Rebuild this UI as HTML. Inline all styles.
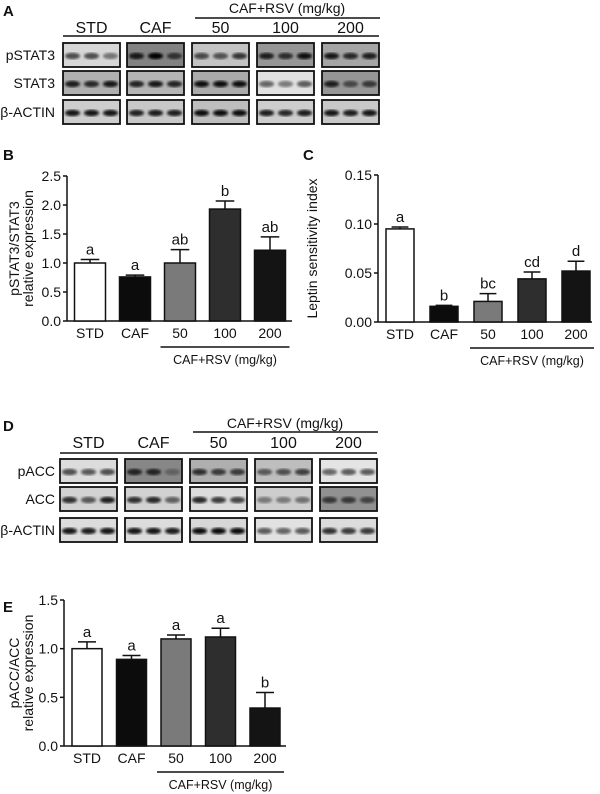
<!DOCTYPE html>
<html><head><meta charset="utf-8"><style>
html,body{margin:0;padding:0;background:#fff;}
svg{display:block;font-family:"Liberation Sans",Arial,sans-serif;}
</style></head><body>
<svg id="fig" width="600" height="794" viewBox="0 0 600 794">
<defs>
<filter id="blur1"><feGaussianBlur stdDeviation="1.2"/></filter>
</defs>
</svg>
<script>
// ---------- data ----------
const groups = ["STD","CAF","50","100","200"];
const bValues = [1.0, 0.76, 1.0, 1.93, 1.22];
const bErrors = [0.06, 0.03, 0.23, 0.14, 0.23];
const bLetters = ["a","a","ab","b","ab"];
const bTicks = [0.0,0.5,1.0,1.5,2.0,2.5];
const cValues = [0.095, 0.016, 0.021, 0.044, 0.052];
const cErrors = [0.002, 0.001, 0.008, 0.007, 0.010];
const cLetters = ["a","b","bc","cd","d"];
const cTicks = [0.00,0.05,0.10,0.15];
const eValues = [1.0, 0.89, 1.10, 1.12, 0.39];
const eErrors = [0.07, 0.04, 0.04, 0.09, 0.16];
const eLetters = ["a","a","a","a","b"];
const eTicks = [0.0,0.5,1.0,1.5];
const barColors = ["#ffffff","#0c0c0c","#7a7a7a","#2e2e2e","#141414"];
const blotA = {
  "pSTAT3":[[0.6,0.6,0.4],[0.8,0.95,0.6],[0.6,0.55,0.7],[0.8,0.7,0.95],[0.85,0.75,0.8]],
  "STAT3":[[0.8,0.75,0.85],[0.8,0.85,0.8],[0.9,0.9,0.9],[0.5,0.4,0.55],[0.8,0.5,0.6]],
  "β-ACTIN":[[0.9,0.9,0.9],[0.8,0.85,0.85],[0.9,0.9,0.9],[0.85,0.8,0.85],[0.9,0.85,0.9]]
};
const blotABg = {"pSTAT3":[215,130,195,150,165],"STAT3":[175,180,170,225,150],"β-ACTIN":[205,200,190,205,200]};
const blotD = {
  "pACC":[[0.6,0.55,0.6],[0.7,0.7,0.2],[0.7,0.65,0.65],[0.5,0.55,0.65],[0.5,0.55,0.55]],
  "ACC":[[0.75,0.55,0.85],[0.75,0.8,0.5],[0.8,0.7,0.65],[0.35,0.35,0.4],[0.6,0.6,0.5]],
  "β-ACTIN":[[0.9,0.85,0.9],[0.9,0.9,0.85],[0.95,0.95,0.95],[0.55,0.5,0.55],[0.75,0.7,0.7]]
};
const blotDBg = {"pACC":[220,135,175,190,228],"ACC":[210,210,220,205,145],"β-ACTIN":[220,220,215,225,220]};

const svg = document.getElementById('fig');
const NS = "http://www.w3.org/2000/svg";
function mk(tag, attrs, parent){const e=document.createElementNS(NS,tag);for(const k in attrs)e.setAttribute(k,attrs[k]);(parent||svg).appendChild(e);return e;}
function txt(x,y,s,size,anchor,weight,parent){const t=mk('text',{x:x,y:y,'font-size':size,'text-anchor':anchor||'middle','font-weight':weight||'normal',fill:'#111'},parent);t.textContent=s;return t;}

// ---------- blot panels ----------
function blotPanel(label, ly, data, bg, boxX, boxW, rowY, rowH, labelRight, hdr){
  const g = mk('g',{});
  
  
  const L = txt(3,ly,label,15,'start','bold',g);
  
  
  txt(hdr.rsvX,hdr.rsvY,"CAF+RSV (mg/kg)",14,'middle','normal',g);
  mk('line',{x1:hdr.rsvL1,x2:hdr.rsvL2,y1:hdr.rsvLineY,y2:hdr.rsvLineY,stroke:'#111','stroke-width':1.5},g);
  groups.forEach((gname,i)=>{ txt(boxX[i]+boxW/2,hdr.grpY,gname,16,'middle','normal',g); });
  mk('line',{x1:boxX[0],x2:boxX[4]+boxW,y1:hdr.grpLineY,y2:hdr.grpLineY,stroke:'#111','stroke-width':1.5},g);
  Object.keys(data).forEach((row,r)=>{
    const y=rowY[r];
    const rl=txt(labelRight,y+rowH/2+5,row,14,'end','normal',g);
    
    
    data[row].forEach((lanes,i)=>{
      const b=bg[row][i];
      mk('rect',{x:boxX[i],y:y,width:boxW,height:rowH,fill:`rgb(${b},${b},${b})`,stroke:'#111','stroke-width':1.8},g);
      lanes.forEach((v,j)=>{
        const cx=boxX[i]+boxW*(j+0.5)/3;
        const c=Math.round(b*(1-v)*0.9);
        mk('ellipse',{cx:cx,cy:y+rowH/2+1,rx:boxW/7.5,ry:3.2,fill:`rgb(${c},${c},${c})`,filter:'url(#blur1)'},g);
      });
    });
  });
}
blotPanel("A",16,blotA,blotABg,[63,127,192,257,322],57,[43,71,100],24,55,
  {rsvX:287,rsvY:13,rsvL1:195,rsvL2:380,rsvLineY:18,grpY:33,grpLineY:36});
blotPanel("D",431,blotD,blotDBg,[60,125,190,255,320],57,[459,487,518],24,55,
  {rsvX:285,rsvY:428,rsvL1:193,rsvL2:378,rsvLineY:432,grpY:448,grpLineY:453});

// ---------- bar charts ----------
function barChart(o){
  const g=mk('g',{});
  
  
  const L=txt(o.labelX,o.labelY,o.label,15,'start','bold',g);
  
  
  const y=v=>o.y0-(v-o.tMin)/(o.tMax-o.tMin)*(o.y0-o.y1);
  mk('line',{x1:o.ax,x2:o.ax,y1:o.y1,y2:o.y0,stroke:'#111','stroke-width':1.5},g);
  mk('line',{x1:o.ax,x2:o.xEnd,y1:o.y0,y2:o.y0,stroke:'#111','stroke-width':1.5},g);
  o.ticks.forEach(t=>{
    mk('line',{x1:o.ax-4,x2:o.ax,y1:y(t),y2:y(t),stroke:'#111','stroke-width':1.5},g);
    const tl=txt(o.ax-6,y(t)+5,t.toFixed(o.dec),14,'end','normal',g);
    
    
  });
  o.values.forEach((v,i)=>{
    const cx=o.x0+i*o.step, w=o.bw;
    const top=y(v+o.errors[i]);
    mk('line',{x1:cx,x2:cx,y1:y(v),y2:top,stroke:'#111','stroke-width':1.5},g);
    mk('line',{x1:cx-w*0.3,x2:cx+w*0.3,y1:top,y2:top,stroke:'#111','stroke-width':1.5},g);
    const r=mk('rect',{x:cx-w/2,y:y(v),width:w,height:o.y0-y(v),fill:barColors[i],stroke:'#111','stroke-width':1.5},g);
    
    
    txt(cx,top-5,o.letters[i],15,'middle','normal',g);
    const xl=txt(cx,o.y0+17,groups[i],14,'middle','normal',g);
    
    
  });
  const c2=o.x0+2*o.step-o.bw/2-4, c4=o.x0+4*o.step+o.bw/2+4;
  mk('line',{x1:c2,x2:c4,y1:o.y0+26,y2:o.y0+26,stroke:'#111','stroke-width':1.5},g);
  txt((c2+c4)/2,o.y0+43,"CAF+RSV (mg/kg)",12.5,'middle','normal',g);
  const ty=(o.y0+o.y1)/2;
  o.title.forEach((s,k)=>{
    const t=txt(o.titleX+k*14,ty,s,14,'middle','normal',g);
    t.setAttribute('transform',`rotate(-90 ${o.titleX+k*14} ${ty})`);
    
    
  });
}
barChart({name:'chart-pstat3',label:'B',labelX:3,labelY:160,ax:67,xEnd:292,y0:321,y1:176,tMin:0,tMax:2.5,ticks:bTicks,dec:1,
  values:bValues,errors:bErrors,letters:bLetters,x0:90,step:45,bw:31,title:["pSTAT3/STAT3","relative expression"],titleX:19});
barChart({name:'chart-leptin-sensitivity',label:'C',labelX:303,labelY:160,ax:378,xEnd:592,y0:322,y1:175,tMin:0,tMax:0.15,ticks:cTicks,dec:2,
  values:cValues,errors:cErrors,letters:cLetters,x0:400,step:44,bw:28,title:["Leptin sensitivity index"],titleX:317});
barChart({name:'chart-pacc',label:'E',labelX:3,labelY:612,ax:64,xEnd:286,y0:746,y1:600,tMin:0,tMax:1.5,ticks:eTicks,dec:1,
  values:eValues,errors:eErrors,letters:eLetters,x0:87,step:44.5,bw:30,title:["pACC/ACC","relative expression"],titleX:19});
</script>
</body></html>
